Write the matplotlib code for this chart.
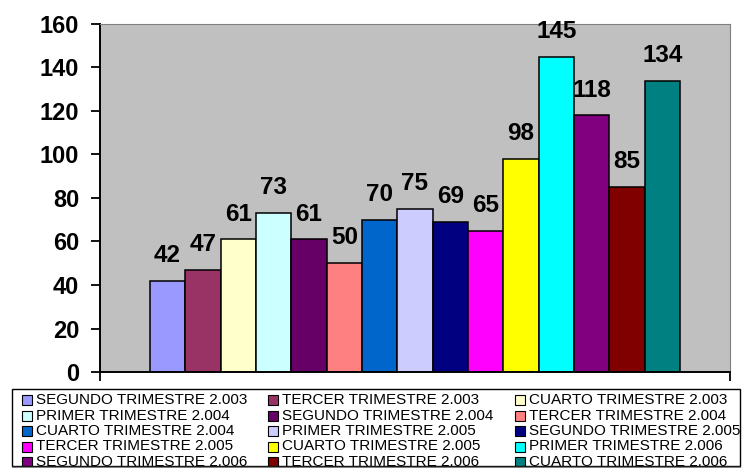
import matplotlib.pyplot as plt
from matplotlib.patches import Rectangle
from matplotlib.lines import Line2D

plt.rcParams['font.family'] = ['Liberation Sans', 'DejaVu Sans']

# quarterly series, one bar each
trimestres = [
    "SEGUNDO TRIMESTRE 2.003", "TERCER TRIMESTRE 2.003", "CUARTO TRIMESTRE 2.003",
    "PRIMER TRIMESTRE 2.004", "SEGUNDO TRIMESTRE 2.004", "TERCER TRIMESTRE 2.004",
    "CUARTO TRIMESTRE 2.004", "PRIMER TRIMESTRE 2.005", "SEGUNDO TRIMESTRE 2.005",
    "TERCER TRIMESTRE 2.005", "CUARTO TRIMESTRE 2.005", "PRIMER TRIMESTRE 2.006",
    "SEGUNDO TRIMESTRE 2.006", "TERCER TRIMESTRE 2.006", "CUARTO TRIMESTRE 2.006",
]
valores = [42, 47, 61, 73, 61, 50, 70, 75, 69, 65, 98, 145, 118, 85, 134]
colores = [
    "#9999FF", "#993366", "#FFFFCC", "#CCFFFF", "#660066", "#FF8080",
    "#0066CC", "#CCCCFF", "#000080", "#FF00FF", "#FFFF00", "#00FFFF",
    "#800080", "#800000", "#008080",
]
y_ticks = [0, 20, 40, 60, 80, 100, 120, 140, 160]

W, H = 743, 468
fig = plt.figure(figsize=(W / 100, H / 100), dpi=100)
ax = fig.add_axes([100 / W, 1 - 372 / H, 630 / W, 348 / H])
ax.set_facecolor("#C0C0C0")

pos = list(range(len(valores)))
bars = ax.bar(pos, valores, width=1.0, color=colores, edgecolor="black", linewidth=1.1)

for x, v in zip(pos, valores):
    ax.annotate(str(v), (x, v), xytext=(0, 13.5), textcoords="offset points",
                ha="center", va="baseline", fontsize=17.5, fontweight="bold")

xmin, xmax = -1.91, 15.91
ax.set_xlim(xmin, xmax)
ax.set_ylim(0, 160)
ax.set_yticks(y_ticks)
ax.set_xticks([xmin, xmax])
ax.set_xticklabels([])
ax.tick_params(axis="y", direction="out", length=6.5, width=1.3, pad=8.5,
               labelsize=17)
ax.tick_params(axis="x", direction="out", length=6.5, width=1.3)
for lbl in ax.get_yticklabels():
    lbl.set_fontweight("bold")

ax.spines["left"].set_color("black")
ax.spines["left"].set_linewidth(1.4)
ax.spines["bottom"].set_color("black")
ax.spines["bottom"].set_linewidth(1.4)
ax.spines["top"].set_color("#808080")
ax.spines["right"].set_color("#808080")

# legend drawn by hand: 3 columns, filled row by row
ncol = 3
col_x = [22, 268, 515]
row_y0, row_dy = 400, 15.5
sq = 10
for i, (name, c) in enumerate(zip(trimestres, colores)):
    fila, col = divmod(i, ncol)
    px = col_x[col]
    py = row_y0 + fila * row_dy
    fig.add_artist(Rectangle((px / W, 1 - (py + sq / 2) / H), sq / W, sq / H,
                             transform=fig.transFigure, facecolor=c,
                             edgecolor="black", linewidth=0.8))
    fig.text((px + sq + 4) / W, 1 - py / H, name, fontsize=11,
             ha="left", va="center")

# legend frame
fig.add_artist(Rectangle((12 / W, 1 - 466 / H), 728 / W, 77 / H, transform=fig.transFigure,
                         facecolor="none", edgecolor="black", linewidth=1.0))
fig.add_artist(Line2D([12 / W, 740 / W], [1 - 466.5 / H, 1 - 466.5 / H],
                      transform=fig.transFigure, color="#808080", linewidth=1.0))

fig.savefig("out.png", dpi=100)
